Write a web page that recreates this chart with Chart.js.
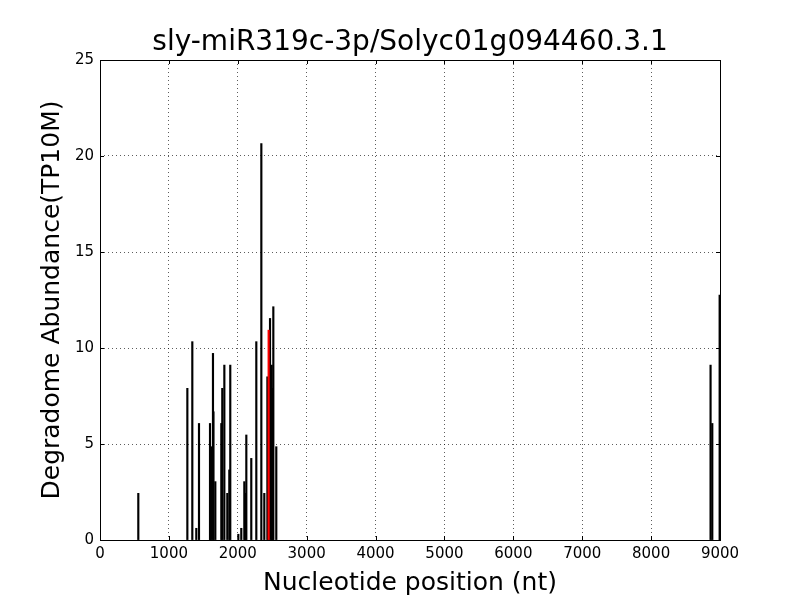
<!DOCTYPE html>
<html>
<head>
<meta charset="utf-8">
<script src="https://cdn.jsdelivr.net/npm/chart.js@4.4.1/dist/chart.umd.min.js"></script>
<style>
  html, body { margin: 0; padding: 0; background: #fff; }
</style>
</head>
<body>
<canvas id="degchart" width="800" height="600"></canvas>
<script>
// ---------------------------------------------------------
// Data (position in nt, TP10M)
// ---------------------------------------------------------
const chartTitle = 'sly-miR319c-3p/Solyc01g094460.3.1';

const sitePositions = [556, 1268, 1340, 1398, 1437, 1597, 1604, 1611, 1640, 1647,
    1674, 1761, 1775, 1805, 1848, 1877, 1891, 2008, 2051, 2095,
    2109, 2124, 2196, 2269, 2342, 2385, 2430, 2440, 2468, 2492,
    2498, 2505, 2516, 2559, 8863, 8888, 8995];
const siteValues = [2.43, 7.9, 10.33, 0.61, 6.07, 6.07, 4.25, 4.86, 9.72, 6.68,
    3.04, 6.07, 7.9, 9.11, 2.43, 3.65, 9.11, 0.3, 0.61, 3.04,
    2.43, 5.47, 4.25, 10.33, 20.65, 2.43, 8.5, 3.65, 11.54, 9.11,
    7.9, 4.86, 12.15, 4.86, 9.11, 6.07, 12.75];

// predicted target site (red)
const targetPositions = [2448];
const targetValues = [10.93];

const xTicks = [0, 1000, 2000, 3000, 4000, 5000, 6000, 7000, 8000, 9000];
const yTicks = [0, 5, 10, 15, 20, 25];

// ---------------------------------------------------------
// helpers
// ---------------------------------------------------------
function toPoints(xs, ys) {
    return xs.map((x, i) => ({ x: x, y: ys[i] }));
}

// frame + inward ticks like the old matplotlib style
const framePlugin = {
    id: 'frame',
    afterDatasetsDraw(chart) {
        const { ctx, chartArea: a, scales } = chart;
        ctx.save();
        ctx.strokeStyle = '#000';
        ctx.lineWidth = 1;
        ctx.beginPath();
        xTicks.forEach(v => {
            const px = Math.round(scales.x.getPixelForValue(v)) + 0.5;
            ctx.moveTo(px, a.bottom); ctx.lineTo(px, a.bottom - 4);
            ctx.moveTo(px, a.top); ctx.lineTo(px, a.top + 4);
        });
        yTicks.forEach(v => {
            const py = Math.round(scales.y.getPixelForValue(v)) + 0.5;
            ctx.moveTo(a.left, py); ctx.lineTo(a.left + 4, py);
            ctx.moveTo(a.right, py); ctx.lineTo(a.right - 4, py);
        });
        ctx.stroke();
        ctx.strokeRect(Math.round(a.left) + 0.5, Math.round(a.top) + 0.5,
            Math.round(a.right - a.left), Math.round(a.bottom - a.top));
        ctx.restore();
    }
};

const fontFamily = "'DejaVu Sans', sans-serif";

new Chart(document.getElementById('degchart'), {
    type: 'bar',
    data: {
        datasets: [
            {
                label: 'degradome',
                data: toPoints(sitePositions, siteValues),
                backgroundColor: '#000',
                barThickness: 1.5,
                grouped: false,
                order: 2
            },
            {
                label: 'target',
                data: toPoints(targetPositions, targetValues),
                backgroundColor: '#ff0000',
                barThickness: 1.5,
                grouped: false,
                order: 1
            }
        ]
    },
    options: {
        responsive: false,
        animation: false,
        layout: { padding: { left: 37, right: 80, top: 0, bottom: 0 } },
        plugins: {
            legend: { display: false },
            tooltip: { enabled: false },
            title: {
                display: true,
                fullSize: false,
                text: chartTitle,
                color: '#000',
                font: { family: fontFamily, size: 28, weight: 'normal' },
                padding: { top: 26, bottom: 0.4 }
            }
        },
        scales: {
            x: {
                type: 'linear',
                min: 0,
                max: 9000,
                offset: false,
                afterBuildTicks: s => { s.ticks = xTicks.map(v => ({ value: v })); },
                afterFit: s => { s.height = 60; },
                ticks: {
                    color: '#000',
                    font: { family: fontFamily, size: 15 },
                    padding: 5,
                    maxRotation: 0,
                    callback: v => String(v)
                },
                grid: {
                    offset: false,
                    color: 'rgba(0,0,0,0.8)',
                    lineWidth: 0.8,
                    drawTicks: false
                },
                border: { display: false, dash: [1, 3] },
                title: {
                    display: true,
                    text: 'Nucleotide position (nt)',
                    color: '#000',
                    font: { family: fontFamily, size: 25 },
                    padding: { top: 0, bottom: 2 }
                }
            },
            y: {
                min: 0,
                max: 25,
                afterBuildTicks: s => { s.ticks = yTicks.map(v => ({ value: v })); },
                afterFit: s => { s.width = 63; },
                ticks: {
                    color: '#000',
                    font: { family: fontFamily, size: 15 },
                    padding: 6,
                    callback: v => String(v)
                },
                grid: {
                    color: 'rgba(0,0,0,0.8)',
                    lineWidth: 0.8,
                    drawTicks: false
                },
                border: { display: false, dash: [1, 3] },
                title: {
                    display: true,
                    text: 'Degradome Abundance(TP10M)',
                    color: '#000',
                    font: { family: fontFamily, size: 25 },
                    padding: { top: 0, bottom: 0 }
                }
            }
        }
    },
    plugins: [framePlugin]
});
</script>
</body>
</html>
